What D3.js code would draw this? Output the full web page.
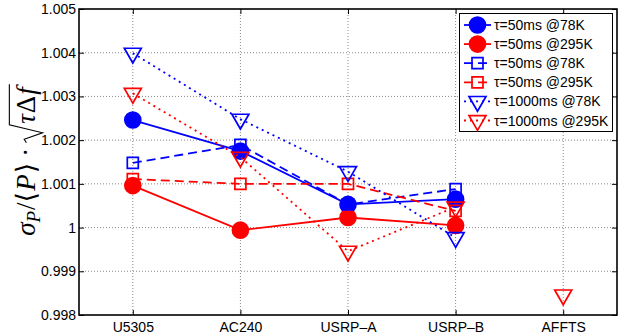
<!DOCTYPE html>
<html>
<head>
<meta charset="utf-8">
<script src="https://cdn.jsdelivr.net/npm/d3@7"></script>
<style>
  body { margin: 0; background: #fff; }
  text { font-family: "Liberation Sans", Arial, sans-serif; }
  text.math { font-family: "Liberation Serif", "DejaVu Serif", serif; }
</style>
</head>
<body>
<svg id="chart" width="635" height="336"></svg>
<script>
const width = 635;
const height = 336;

// data
const categories = ["U5305", "AC240", "USRP\u2013A", "USRP\u2013B", "AFFTS"];
const yTicks = [0.998, 0.999, 1, 1.001, 1.002, 1.003, 1.004, 1.005];
const yTickLabels = ["0.998", "0.999", "1", "1.001", "1.002", "1.003", "1.004", "1.005"];

const circ78  = [1.00246, 1.00175, 1.00053, 1.00065, null];
const circ295 = [1.00096, 0.99994, 1.00023, 1.00005, null];
const sq78    = [1.00148, 1.00189, 1.00053, 1.00088, null];
const sq295   = [1.00111, 1.00100, 1.00100, 1.00038, null];
const tri78   = [1.00399, 1.00248, 1.00128, 0.99977, null];
const tri295  = [1.00307, 1.00161, 0.99946, 1.00047, null];
const tri295Affts = [null, null, null, null, 0.99846];   // lone point, no line to it

const legendLabels = ["\u03c4=50ms @78K", "\u03c4=50ms @295K", "\u03c4=50ms @78K",
                      "\u03c4=50ms @295K", "\u03c4=1000ms @78K", "\u03c4=1000ms @295K"];

const series = [
  {values: circ78,  color: "#0000ff", marker: "circle",   dash: null,  legend: 0},
  {values: circ295, color: "#ff0000", marker: "circle",   dash: null,  legend: 1},
  {values: sq78,    color: "#0000ff", marker: "square",   dash: "9,5", legend: 2},
  {values: sq295,   color: "#ff0000", marker: "square",   dash: "9,5", legend: 3},
  {values: tri78,   color: "#0000ff", marker: "triangle", dash: "2,4", legend: 4},
  {values: tri295,  color: "#ff0000", marker: "triangle", dash: "2,4", legend: 5},
  {values: tri295Affts, color: "#ff0000", marker: "triangle", dash: "2,4", legend: -1}
];

const pLeft = 79, pRight = 617, pTop = 9, pBottom = 315;

const svg = d3.select("#chart");

const x = d3.scalePoint().domain(categories).range([pLeft, pRight]).padding(0.5);
const y = d3.scaleLinear().domain([0.998, 1.005]).range([pBottom, pTop]);

// grid
svg.append("g").selectAll("line")
  .data(categories)
  .join("line")
  .attr("x1", d => x(d)).attr("x2", d => x(d))
  .attr("y1", pTop).attr("y2", pBottom)
  .attr("stroke", "#8a8a8a").attr("stroke-width", 1)
  .attr("stroke-dasharray", "1,2");

svg.append("g").selectAll("line")
  .data(yTicks.slice(1, -1))
  .join("line")
  .attr("x1", pLeft).attr("x2", pRight)
  .attr("y1", d => y(d)).attr("y2", d => y(d))
  .attr("stroke", "#8a8a8a").attr("stroke-width", 1)
  .attr("stroke-dasharray", "1,2");

// axes, matlab style ticks pointing inward
svg.append("g")
  .attr("transform", `translate(${pLeft},0)`)
  .call(d3.axisLeft(y).tickValues(yTicks).tickFormat((d, i) => yTickLabels[i]).tickSize(-5).tickPadding(3));
svg.append("g")
  .attr("transform", `translate(${pRight},0)`)
  .call(d3.axisRight(y).tickValues(yTicks).tickFormat("").tickSize(-5));
svg.append("g")
  .attr("transform", `translate(0,${pBottom})`)
  .call(d3.axisBottom(x).tickSize(-5).tickPadding(7));
svg.append("g")
  .attr("transform", `translate(0,${pTop})`)
  .call(d3.axisTop(x).tickFormat("").tickSize(-5));

svg.selectAll(".domain").remove();
svg.selectAll(".tick line").attr("stroke", "#000").attr("stroke-width", 1);
svg.selectAll(".tick text").attr("font-size", 14).attr("fill", "#000");

svg.append("rect")
  .attr("x", pLeft).attr("y", pTop)
  .attr("width", pRight - pLeft).attr("height", pBottom - pTop)
  .attr("fill", "none").attr("stroke", "#000").attr("stroke-width", 1.6);

// markers
const symbols = {
  circle:   d3.symbol().type(d3.symbolCircle).size(200),
  square:   d3.symbol().type(d3.symbolSquare).size(121),
  triangle: d3.symbol().type(d3.symbolTriangle).size(125)
};

function drawMarker(g, s, cx, cy) {
  const p = g.append("path")
    .attr("d", symbols[s.marker]())
    .attr("transform", s.marker == "triangle" ? `translate(${cx},${cy}) rotate(180)` : `translate(${cx},${cy})`)
    .attr("stroke", s.color)
    .attr("stroke-width", 1.7);
  if (s.marker == "circle") p.attr("fill", s.color);
  else p.attr("fill", "none");
}

const line = d3.line()
  .defined(d => d.v != null)
  .x(d => x(d.c))
  .y(d => y(d.v));

series.forEach(function(s) {
  const pts = s.values.map((v, i) => ({c: categories[i], v: v}));
  const g = svg.append("g");
  g.append("path")
    .datum(pts)
    .attr("d", line)
    .attr("fill", "none")
    .attr("stroke", s.color)
    .attr("stroke-width", 1.8)
    .attr("stroke-dasharray", s.dash);
  pts.filter(d => d.v != null).forEach(d => drawMarker(g, s, x(d.c), y(d.v)));
});

// legend
const lg = svg.append("g");
lg.append("rect")
  .attr("x", 459.5).attr("y", 13.5)
  .attr("width", 153).attr("height", 118)
  .attr("fill", "#fff").attr("stroke", "#000").attr("stroke-width", 1);

series.filter(s => s.legend >= 0).forEach(function(s) {
  const cy = 25 + s.legend * 19.1;
  const g = lg.append("g");
  g.append("line")
    .attr("x1", 464).attr("x2", 491)
    .attr("y1", cy).attr("y2", cy)
    .attr("stroke", s.color).attr("stroke-width", 1.8)
    .attr("stroke-dasharray", s.dash);
  drawMarker(g, s, 477.5, cy);
  g.append("text")
    .attr("x", 494).attr("y", cy + 5)
    .attr("font-size", 14)
    .text(legendLabels[s.legend]);
});

// y label: sigma_P / <P> . sqrt(tau Delta f)
const fs = 27;
const ylab = svg.append("g").attr("transform", "translate(35,160) rotate(-90)");
const inner = ylab.append("g");
const t1 = inner.append("text").attr("class", "math").attr("font-size", fs);
t1.append("tspan").attr("font-style", "italic").text("\u03c3");
t1.append("tspan").attr("font-style", "italic").attr("font-size", fs * 0.7).attr("dy", fs * 0.2).text("P");
t1.append("tspan").attr("dy", -fs * 0.2).attr("dx", 1).text("/\u27e8");
t1.append("tspan").attr("font-style", "italic").attr("dx", 1).text("P");
t1.append("tspan").attr("dx", 1).text("\u27e9");
t1.append("tspan").attr("dx", 6).text("\u00b7");
const w1 = t1.node().getComputedTextLength() + 9;

const rx = w1 + 5;
const t2 = inner.append("text").attr("class", "math").attr("font-size", fs)
  .attr("x", rx + 19);
t2.append("tspan").attr("font-style", "italic").text("\u03c4");
t2.append("tspan").attr("dx", 1).text("\u0394");
t2.append("tspan").attr("font-style", "italic").attr("dx", 1).text("f");
const w2 = t2.node().getComputedTextLength() + 2;
const end = rx + 19 + w2 + 3;

inner.append("path")
  .attr("d", `M${rx},${-fs * 0.32} L${rx + 3.5},${-fs * 0.4} L${rx + 10},${fs * 0.28} L${rx + 18},${-fs * 0.95} H${end}`)
  .attr("fill", "none").attr("stroke", "#000").attr("stroke-width", 1.1);

inner.attr("transform", `translate(${-end / 2},0)`);
</script>
</body>
</html>
